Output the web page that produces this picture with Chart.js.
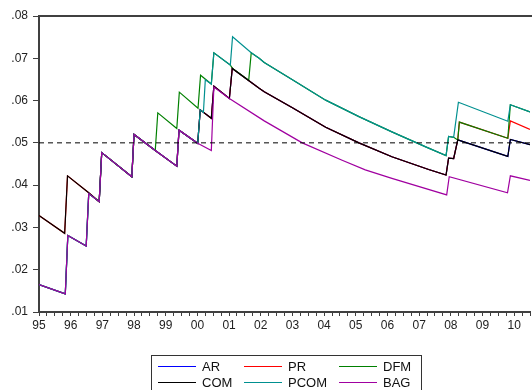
<!DOCTYPE html>
<html>
<head>
<meta charset="utf-8">
<script src="https://cdn.jsdelivr.net/npm/chart.js@4"></script>
<style>
  body { margin: 0; background: #fff; }
</style>
</head>
<body>
<canvas id="rates" width="532" height="390"></canvas>
<script>
// pieces of the paths, [year, value]
var lowEarly = [[1995.00, .0165], [1995.83, .0143], [1995.91, .0281], [1996.49, .0256], [1996.57, .0380]];
var highEarly = [[1995.00, .0328], [1995.81, .0286], [1995.90, .0422], [1996.57, .0382]];
var mid9698 = [[1996.90, .0361], [1996.98, .0477], [1997.93, .0420], [1998.00, .0520], [1998.67, .0482]];
var mid9900 = [[1999.35, .0445], [1999.42, .0530], [2000.01, .0499]];
var dfm9801 = [[1998.75, .0571], [1999.35, .0534], [1999.43, .0620], [2000.02, .0582], [2000.10, .0660],
               [2000.44, .0639], [2000.52, .0713], [2001.04, .0684], [2001.11, .0676], [2001.62, .0648]];
var pcom0001 = [[2000.09, .0578], [2000.19, .0572], [2000.25, .0649], [2000.44, .0639], [2000.52, .0713],
                [2001.04, .0684], [2001.11, .0751]];
var pcom0108 = [[2001.70, .0713], [2001.95, .0700], [2002.11, .0690], [2003.00, .0649], [2004.05, .0601],
                [2005.10, .0562], [2006.14, .0526], [2007.19, .0491], [2007.85, .0470], [2007.93, .0515],
                [2008.09, .0513]];
var pcomEnd = [[2008.24, .0596], [2009.80, .0551], [2009.88, .0590], [2010.50, .0573]];
var dfmEnd = [[2008.22, .0507], [2008.27, .0549], [2009.80, .0511], [2009.88, .0590], [2010.50, .0573]];
var com0008 = [[2000.09, .0578], [2000.44, .0558], [2000.52, .0634], [2001.01, .0605], [2001.10, .0676],
               [2001.95, .0629], [2002.11, .0621], [2003.00, .0583], [2004.05, .0537], [2005.10, .0500],
               [2006.14, .0467], [2007.30, .0437], [2007.85, .0424], [2007.93, .0464], [2008.09, .0463],
               [2008.22, .0507]];
var comEnd = [[2009.80, .0468], [2009.88, .0508], [2010.50, .0496]];
var prEnd = [[2008.27, .0549], [2009.80, .0511], [2009.88, .0552], [2010.50, .0532]];
var bag0010 = [[2000.44, .0482], [2000.52, .0632], [2001.01, .0605], [2002.11, .0552], [2003.31, .0500],
               [2004.57, .0459], [2005.30, .0436], [2006.14, .0416], [2007.87, .0377], [2007.95, .0420],
               [2009.79, .0382], [2009.88, .0422], [2010.50, .0411]];

var names = ["AR", "PR", "DFM", "COM", "PCOM", "BAG"];
var colors = ["#0000ff", "#ff0000", "#008000", "#000000", "#009090", "#a000a0"];
var paths = [
    [lowEarly, mid9698, mid9900, com0008, comEnd],
    [highEarly, mid9698, mid9900, com0008, prEnd],
    [lowEarly, mid9698, dfm9801, pcom0108, dfmEnd],
    [highEarly, mid9698, mid9900, com0008, comEnd],
    [lowEarly, mid9698, mid9900, pcom0001, pcom0108, pcomEnd],
    [lowEarly, mid9698, mid9900, bag0010]
];
var refLevel = .05;
var yearFrom = 1995, yearTo = 2010.5;

function toPoints(parts) {
    var pts = [];
    parts.forEach(function (p) {
        p.forEach(function (d) { pts.push({ x: d[0], y: d[1] }); });
    });
    return pts;
}

var datasets = names.map(function (n, i) {
    return {
        label: n,
        data: toPoints(paths[i]),
        borderColor: colors[i],
        borderWidth: 1.2,
        pointRadius: 0,
        tension: 0,
        order: names.length - i
    };
});
datasets.push({
    label: "ref",
    data: [{ x: yearFrom, y: refLevel }, { x: yearTo, y: refLevel }],
    borderColor: "#000",
    borderWidth: 1,
    borderDash: [5, 4],
    pointRadius: 0,
    order: 0
});

var frameAndLegend = {
    id: "frameAndLegend",
    afterDraw: function (chart) {
        var ctx = chart.ctx, a = chart.chartArea;
        ctx.save();
        ctx.strokeStyle = "#404040";
        ctx.lineWidth = 2;
        ctx.beginPath();
        ctx.moveTo(a.left - 1, a.top);
        ctx.lineTo(chart.width, a.top);
        ctx.stroke();

        // legend box
        ctx.lineWidth = 1;
        ctx.strokeStyle = "#333";
        ctx.strokeRect(151.5, 355.5, 270, 50);
        var cols = [158, 244, 339];
        var rows = [366, 382];
        ctx.font = "13px 'Liberation Sans', Arial, sans-serif";
        ctx.textBaseline = "middle";
        ctx.fillStyle = "#111";
        names.forEach(function (n, i) {
            var cx = cols[i % 3], cy = rows[Math.floor(i / 3)];
            ctx.strokeStyle = colors[i];
            ctx.lineWidth = 1;
            ctx.beginPath();
            ctx.moveTo(cx, cy + 0.5);
            ctx.lineTo(cx + 38, cy + 0.5);
            ctx.stroke();
            ctx.fillText(n, cx + 44, cy + 1);
        });
        ctx.restore();
    }
};

Chart.defaults.font.family = "'Liberation Sans', Arial, sans-serif";
Chart.defaults.font.size = 12;
Chart.defaults.color = "#222";

new Chart(document.getElementById("rates"), {
    type: "line",
    data: { datasets: datasets },
    options: {
        responsive: false,
        animation: false,
        layout: { padding: { top: 16, right: 0, bottom: 0, left: 0 } },
        plugins: { legend: { display: false }, tooltip: { enabled: false } },
        scales: {
            x: {
                type: "linear",
                min: yearFrom,
                max: yearTo,
                afterFit: function (s) { s.height = 78; },
                border: { display: true, color: "#404040", width: 2 },
                grid: { drawOnChartArea: false, tickLength: 4, color: "#404040" },
                ticks: {
                    stepSize: 0.25,
                    maxTicksLimit: 200,
                    autoSkip: false,
                    maxRotation: 0,
                    padding: 2,
                    callback: function (v) {
                        var r = Math.round(v);
                        return Math.abs(v - r) < 1e-6 ? String(r).slice(2) : "";
                    }
                }
            },
            y: {
                min: .01,
                max: .08,
                afterFit: function (s) { s.width = 39; },
                border: { display: true, color: "#404040", width: 2 },
                grid: { drawOnChartArea: false, tickLength: 6, color: "#404040" },
                ticks: {
                    stepSize: .01,
                    padding: 5,
                    callback: function (v) { return v.toFixed(2).slice(1); }
                }
            }
        }
    },
    plugins: [frameAndLegend]
});
</script>
</body>
</html>
